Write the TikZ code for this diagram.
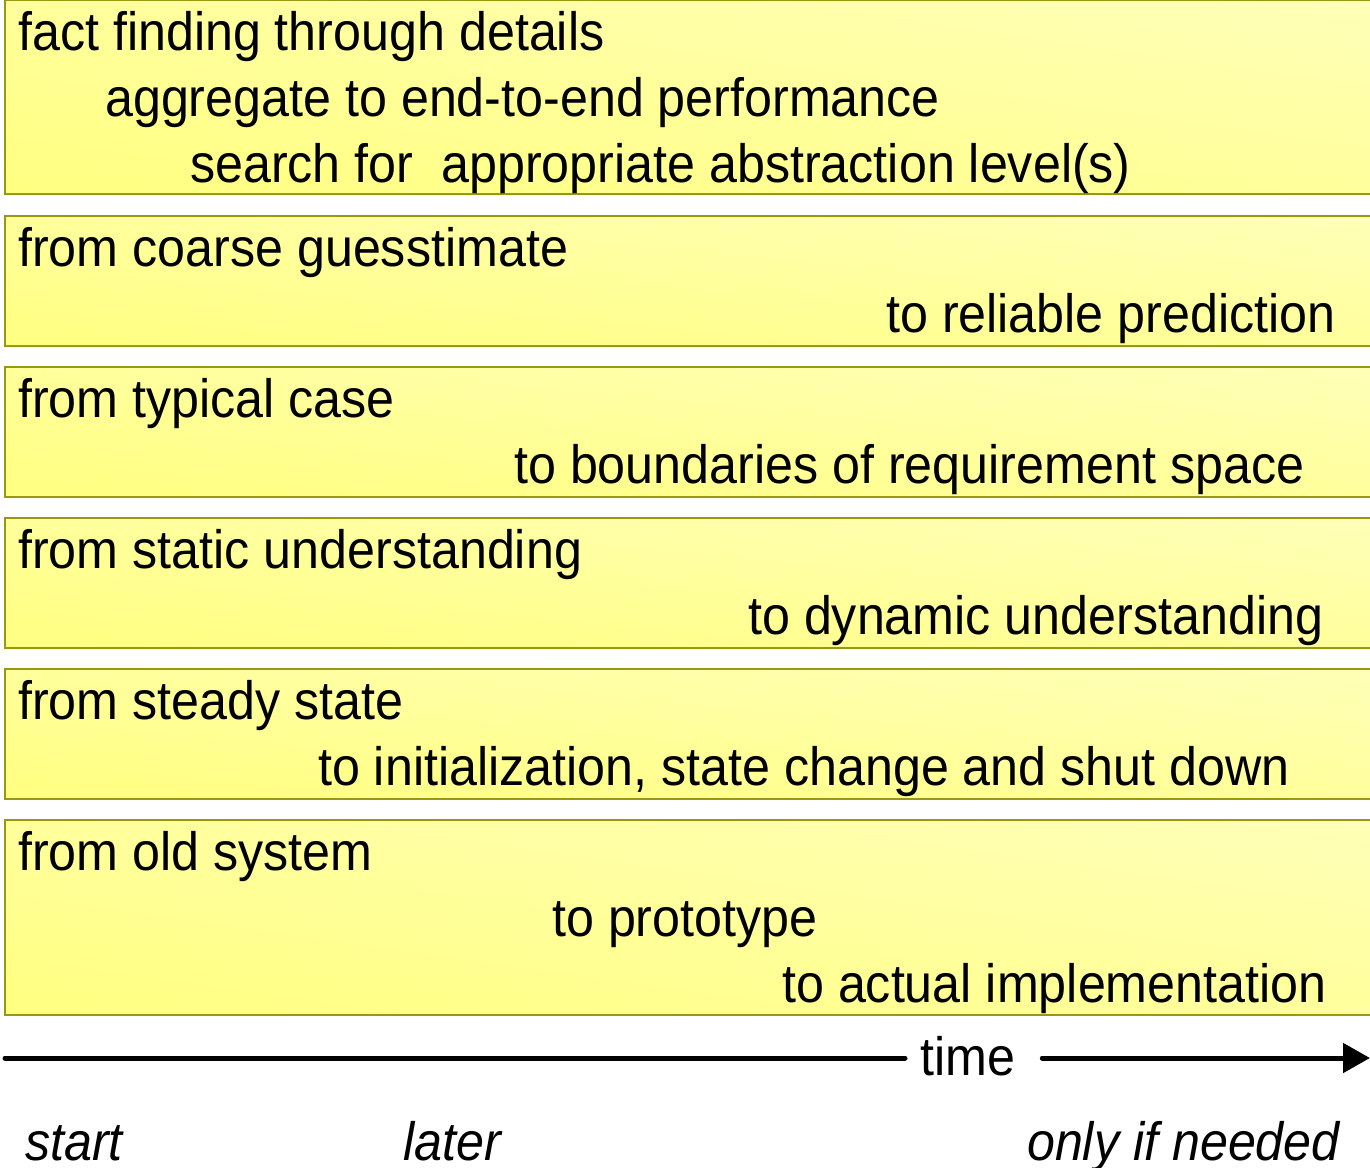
\documentclass[tikz,border=0pt]{standalone}
\usepackage{fontspec}
\setmainfont{Liberation Sans}[FakeStretch=0.93]
\usetikzlibrary{arrows.meta,shadings}
\definecolor{boxdark}{HTML}{FFFF80}
\definecolor{boxlight}{HTML}{FFFFB8}
\definecolor{boxmid}{HTML}{FFFF9C}
\definecolor{boxline}{HTML}{999910}
\tikzset{
  band/.style={lower left=boxdark, upper right=boxlight, upper left=boxmid, lower right=boxmid},
  bandline/.style={draw=boxline, line width=1.3pt},
  txt/.style={inner sep=0pt, anchor=base west, font=\fontsize{54}{66}\selectfont},
  lbl/.style={inner sep=0pt, anchor=base west, font=\fontsize{54}{66}\selectfont\itshape},
  timeline/.style={line width=5pt, line cap=round}
}
\begin{document}
\begin{tikzpicture}[x=1pt,y=-1pt]
\useasboundingbox (0,0) rectangle (1370,1167);
% bands
\foreach \t/\b in {0/194,216/346,367/497,518/648,669/799,820/1015}{
  \shade[band] (5,\t) rectangle (1380,\b);
  \draw[bandline] (5,\t) rectangle (1380,\b);
}
% band 1
\node[txt] (a1) at (18,50) {fact finding through details};
\node[txt] (a2) at (105,116) {aggregate to end-to-end performance};
\node[txt] (a3) at (190,182) {search for\ \ appropriate abstraction level(s)};
% band 2
\node[txt] (b1) at (18,266) {from coarse guesstimate};
\node[txt] (b2) at (886,332) {to reliable prediction};
% band 3
\node[txt] (c1) at (18,417) {from typical case};
\node[txt] (c2) at (514,483) {to boundaries of requirement space};
% band 4
\node[txt] (d1) at (18,568) {from static understanding};
\node[txt] (d2) at (748,634) {to dynamic understanding};
% band 5
\node[txt] (e1) at (18,719) {from steady state};
\node[txt] (e2) at (318,785) {to initialization, state change and shut down};
% band 6
\node[txt] (f1) at (18,870) {from old system};
\node[txt] (f2) at (552,936) {to prototype};
\node[txt] (f3) at (782,1002) {to actual implementation};
% time axis
\node[txt] (time) at (920,1075) {time};
\coordinate (tl) at (5,1058);
\coordinate (tr) at (1370,1058);
\draw[timeline] (tl) -- ([xshift=-15pt]time.west |- tl);
\draw[timeline, -{Triangle[length=27pt,width=29pt]}] ([xshift=27pt]time.east |- tl) -- (tr);
% labels
\node[lbl] (s) at (25,1160) {start};
\node[lbl] (l) at (403,1160) {later};
\node[lbl, anchor=base east] (o) at (1340,1160) {only if needed};
\end{tikzpicture}
\end{document}
